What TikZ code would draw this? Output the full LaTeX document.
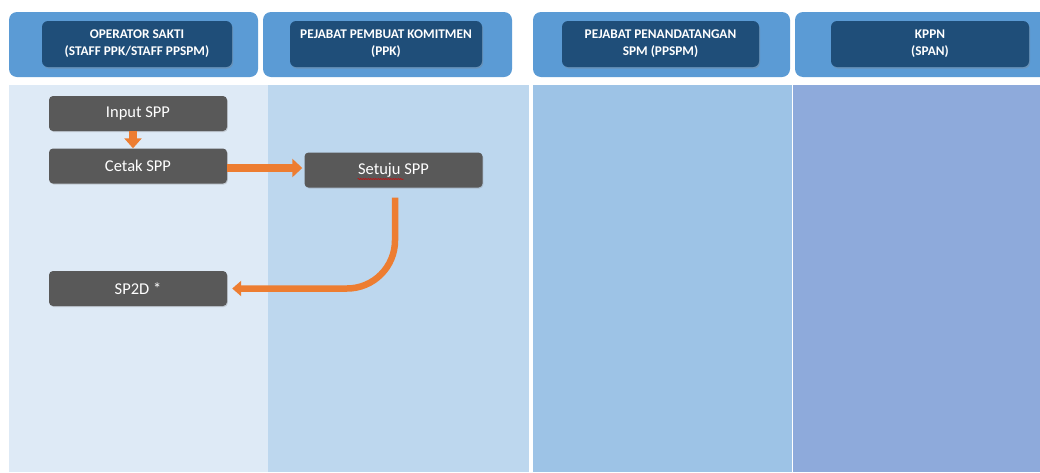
\documentclass[tikz,border=0pt]{standalone}
\usepackage{fontspec}
\setmainfont{Carlito}
\usetikzlibrary{arrows.meta,shadows,decorations.pathmorphing}
\definecolor{laneA}{HTML}{DEEAF6}
\definecolor{laneB}{HTML}{BDD7EE}
\definecolor{laneC}{HTML}{9DC3E6}
\definecolor{laneD}{HTML}{8EAADB}
\definecolor{hdrOuter}{HTML}{5B9BD5}
\definecolor{hdrInner}{HTML}{1F4E79}
\definecolor{procFill}{HTML}{595959}
\definecolor{flowOrange}{HTML}{ED7D31}
\tikzset{
  hdrbox/.style={fill=hdrOuter, rounded corners=8pt},
  hdrlabel/.style={fill=hdrInner, rounded corners=6pt, text=white,
    font=\bfseries\fontsize{13.3}{17}\selectfont, align=center,
    minimum height=46pt, inner sep=0pt,
    drop shadow={shadow xshift=1pt, shadow yshift=-1.5pt, opacity=0.35}},
  procbox/.style={fill=procFill, rounded corners=4pt, text=white,
    font=\fontsize{16.5}{19}\selectfont, minimum width=178pt,
    minimum height=35pt, inner sep=0pt,
    drop shadow={shadow xshift=0.8pt, shadow yshift=-1pt, opacity=0.3}},
  flow/.style={draw=flowOrange, line width=7pt},
}
\begin{document}
\begin{tikzpicture}[x=1pt,y=-1pt]
\clip (0,0) rectangle (1040,472);
\fill[white] (0,0) rectangle (1040,472);
% lanes
\fill[laneA] (9,85) rectangle (268,472);
\fill[laneB] (268,85) rectangle (528.5,472);
\fill[laneC] (532.5,85) rectangle (792,472);
\fill[laneD] (793,85) rectangle (1040,472);
% headers
\fill[hdrbox] (9,12) rectangle (258,77);
\fill[hdrbox] (263,12) rectangle (512,77);
\fill[hdrbox] (533,12) rectangle (790,77);
\fill[hdrbox] (795,12) rectangle (1065,77);
\node[hdrlabel, minimum width=190pt] (h1) at (137,44) {OPERATOR SAKTI\\(STAFF PPK/STAFF PPSPM)};
\node[hdrlabel, minimum width=192pt] (h2) at (386,44) {PEJABAT PEMBUAT KOMITMEN\\(PPK)};
\node[hdrlabel, minimum width=197pt] (h3) at (660.5,44) {PEJABAT PENANDATANGAN\\SPM (PPSPM)};
\node[hdrlabel, minimum width=198pt] (h4) at (930,44) {KPPN\\(SPAN)};
% process boxes
\node[procbox] (input) at (138,113.5) {Input SPP};
\node[procbox] (cetak) at (138,166) {Cetak SPP};
\node[procbox] (setuju) at (393.5,170) {Setuju SPP};
\node[procbox] (sp2d) at (138,288.5) {SP2D *};
% spell-check underline
\draw[red!85!black, line width=0.5pt, decorate,
  decoration={snake, amplitude=0.6pt, segment length=2.5pt}]
  ([xshift=-36pt,yshift=-9pt]setuju.center) -- ([xshift=10pt,yshift=-9pt]setuju.center);
% connectors
\draw[flow, line width=8pt, -{Triangle[width=17pt,length=10pt]}]
  ([xshift=-5pt]input.south) -- ([xshift=-5pt]cetak.north);
\draw[flow, line width=8pt, -{Triangle[width=18pt,length=10pt]}, shorten >=2pt]
  ([yshift=-2pt]cetak.east) -- ([yshift=2pt]setuju.west);
\draw[flow, line width=6.5pt, rounded corners=48pt, -{Triangle[width=15pt,length=9pt]}, shorten >=5pt]
  ([xshift=1.5pt,yshift=-10pt]setuju.south) |- (sp2d.east);
\end{tikzpicture}
\end{document}
